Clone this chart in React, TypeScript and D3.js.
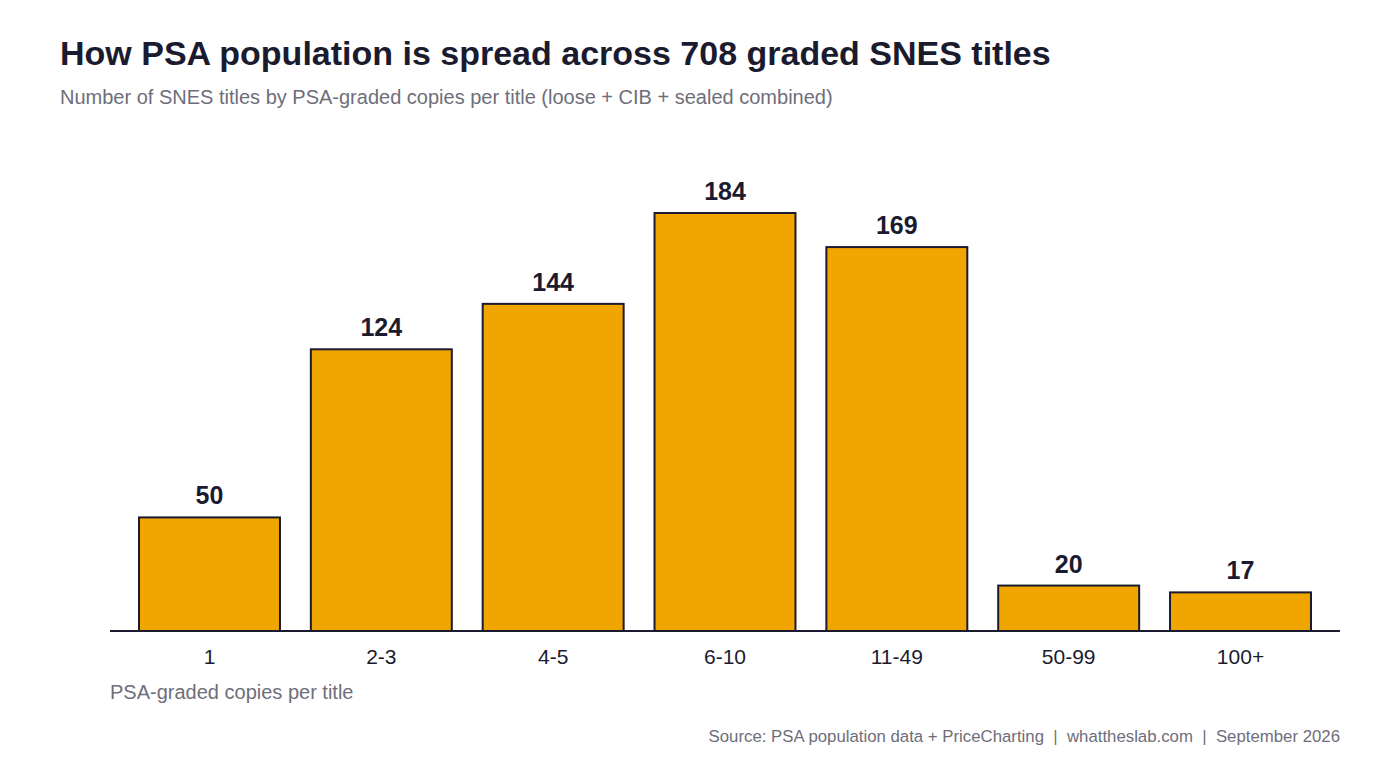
import React from "react";
import * as d3 from "d3";

const categories = ["1", "2-3", "4-5", "6-10", "11-49", "50-99", "100+"];
const counts = [50, 124, 144, 184, 169, 20, 17];

const W = 1400;
const H = 760;
const FONT = "'Liberation Sans', Arial, Helvetica, sans-serif";
const DARK = "#1b1b2f";
const GRAY = "#6e6e7a";

export default function App() {
  const x = d3.scaleBand<string>().domain(categories).range([110, 1340]).paddingInner(0.168).paddingOuter(0.163);
  const y = d3.scaleLinear().domain([0, 184]).range([631, 213]);
  const bw = x.bandwidth();
  return (
    <div style={{ position: "absolute", left: 0, top: 0 }}>
      <svg width={W} height={H} style={{ display: "block", fontFamily: FONT }}>
        <rect x={0} y={0} width={W} height={H} fill="#ffffff" />
        <text x={60} y={65} fontSize={34} fontWeight="bold" fill={DARK}>
          How PSA population is spread across 708 graded SNES titles
        </text>
        <text x={60} y={104} fontSize={20} fill={GRAY}>
          Number of SNES titles by PSA-graded copies per title (loose + CIB + sealed combined)
        </text>
        {categories.map((c, i) => (
          <g key={c}>
            <rect
              x={(x(c) as number) + 1}
              y={y(counts[i])}
              width={bw - 2}
              height={y(0) - y(counts[i])}
              fill="#f0a500"
              stroke={DARK}
              strokeWidth={2}
            />
            <text
              x={(x(c) as number) + bw / 2}
              y={y(counts[i]) - 13}
              textAnchor="middle"
              fontSize={25}
              fontWeight="bold"
              fill={DARK}
            >
              {counts[i]}
            </text>
            <text x={(x(c) as number) + bw / 2} y={664} textAnchor="middle" fontSize={21} fill={DARK}>
              {c}
            </text>
          </g>
        ))}
        <line x1={110} x2={1340} y1={631} y2={631} stroke={DARK} strokeWidth={2} />
        <text x={110} y={699} fontSize={20} fill={GRAY}>
          PSA-graded copies per title
        </text>
        <text x={1340} y={742} textAnchor="end" fontSize={16.8} fill={GRAY} style={{ whiteSpace: "pre" }}>
          {"Source: PSA population data + PriceCharting  |  whattheslab.com  |  September 2026"}
        </text>
      </svg>
    </div>
  );
}
